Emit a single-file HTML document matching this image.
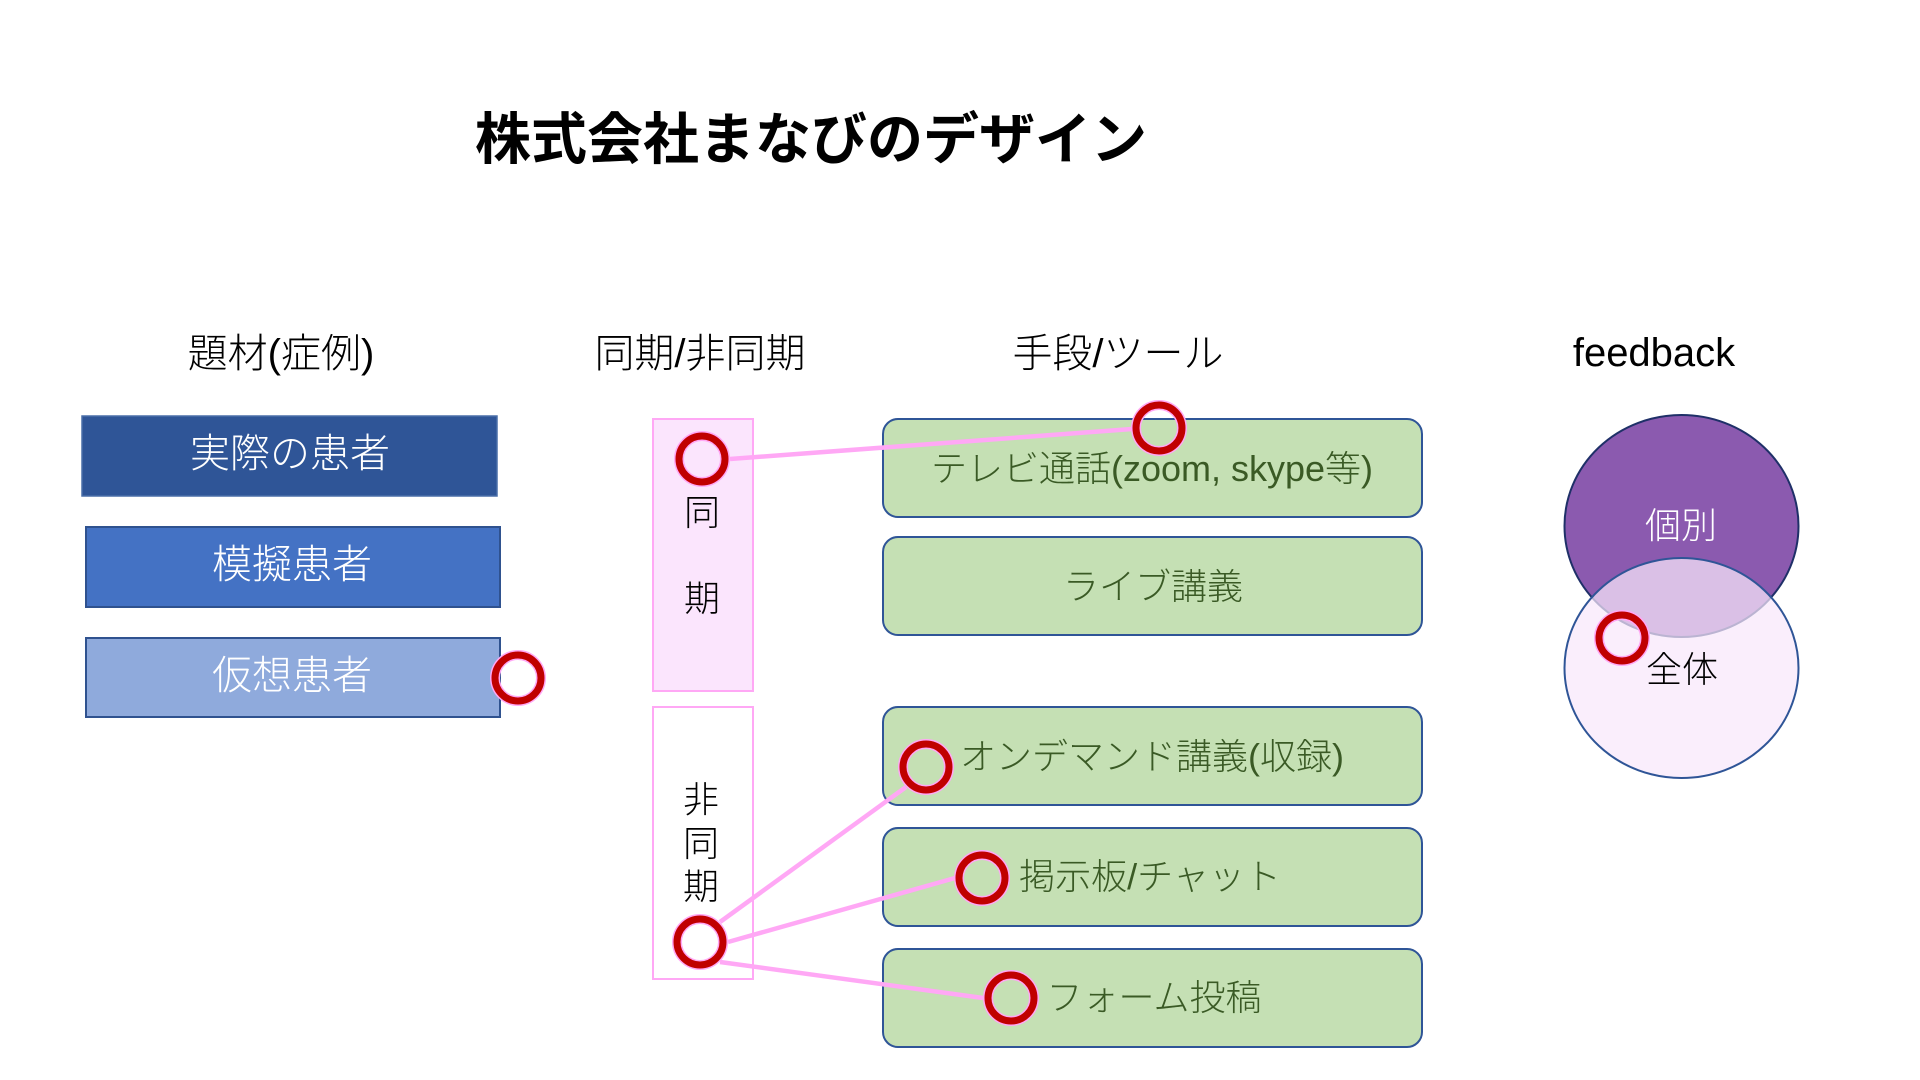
<!DOCTYPE html>
<html>
<head>
<meta charset="utf-8">
<style>
  html, body { margin: 0; padding: 0; background: #ffffff; }
  body { width: 1920px; height: 1080px; overflow: hidden; }
  svg { display: block; }
  text { font-family: "Liberation Sans", "Noto Sans CJK JP", sans-serif; font-weight: 300; }
  text.title { font-weight: bold; }
</style>
</head>
<body>
<svg width="1920" height="1080" viewBox="0 0 1920 1080" xmlns="http://www.w3.org/2000/svg">
  <rect x="0" y="0" width="1920" height="1080" fill="#ffffff"/>

  <!-- Title -->
  <text class="title" x="811" y="159" font-size="56" text-anchor="middle" fill="#000000">株式会社まなびのデザイン</text>

  <!-- Column headers -->
  <text x="281" y="367" font-size="40" text-anchor="middle" fill="#000000">題材(症例)</text>
  <text x="700" y="367" font-size="40" text-anchor="middle" fill="#000000">同期/非同期</text>
  <text x="1118" y="367" font-size="40" text-anchor="middle" fill="#000000">手段/ツール</text>
  <text x="1654" y="366" font-size="40" text-anchor="middle" fill="#000000">feedback</text>

  <!-- Left blue boxes -->
  <rect x="82" y="416" width="415" height="80" fill="#2F5597" stroke="#4A6FA8" stroke-width="1.5"/>
  <text x="290" y="467" font-size="40" text-anchor="middle" fill="#ffffff">実際の患者</text>

  <rect x="86" y="527" width="414" height="80" fill="#4472C4" stroke="#2F528F" stroke-width="2"/>
  <text x="292" y="578" font-size="40" text-anchor="middle" fill="#ffffff">模擬患者</text>

  <rect x="86" y="638" width="414" height="79" fill="#8FAADC" stroke="#2F528F" stroke-width="2"/>
  <text x="292" y="689" font-size="40" text-anchor="middle" fill="#ffffff">仮想患者</text>

  <!-- Pink sync/async boxes -->
  <rect x="653" y="419" width="100" height="272" fill="#FBE5FD" stroke="#FFA8F5" stroke-width="2"/>
  <rect x="653" y="707" width="100" height="272" fill="#ffffff" stroke="#FFA8F5" stroke-width="2"/>
  <text x="702" y="525" font-size="36" text-anchor="middle" fill="#000000">同</text>
  <text x="702" y="611" font-size="36" text-anchor="middle" fill="#000000">期</text>
  <text x="701" y="812" font-size="36" text-anchor="middle" fill="#000000">非</text>
  <text x="701" y="856" font-size="36" text-anchor="middle" fill="#000000">同</text>
  <text x="701" y="899" font-size="36" text-anchor="middle" fill="#000000">期</text>

  <!-- Green tool boxes -->
  <rect x="883" y="419" width="539" height="98" rx="15" ry="15" fill="#C5E0B4" stroke="#2F5597" stroke-width="2"/>
  <rect x="883" y="537" width="539" height="98" rx="15" ry="15" fill="#C5E0B4" stroke="#2F5597" stroke-width="2"/>
  <rect x="883" y="707" width="539" height="98" rx="15" ry="15" fill="#C5E0B4" stroke="#2F5597" stroke-width="2"/>
  <rect x="883" y="828" width="539" height="98" rx="15" ry="15" fill="#C5E0B4" stroke="#2F5597" stroke-width="2"/>
  <rect x="883" y="949" width="539" height="98" rx="15" ry="15" fill="#C5E0B4" stroke="#2F5597" stroke-width="2"/>

  <text x="1152" y="481" font-size="36" text-anchor="middle" fill="#3A5A25">テレビ通話(zoom, skype等)</text>
  <text x="1153" y="599" font-size="36" text-anchor="middle" fill="#3A5A25">ライブ講義</text>
  <text x="1152" y="769" font-size="36" text-anchor="middle" fill="#3A5A25">オンデマンド講義(収録)</text>
  <text x="1150" y="889" font-size="36" text-anchor="middle" fill="#3A5A25">掲示板/チャット</text>
  <text x="1154" y="1010" font-size="36" text-anchor="middle" fill="#3A5A25">フォーム投稿</text>

  <!-- Venn ellipses -->
  <ellipse cx="1681.5" cy="526" rx="117" ry="111" fill="#8B5AAF" stroke="#1F3068" stroke-width="2"/>
  <ellipse cx="1681.5" cy="668" rx="117" ry="110" fill="rgba(248,231,251,0.72)" stroke="#2F5597" stroke-width="2"/>
  <text x="1681" y="538" font-size="36" text-anchor="middle" fill="#ffffff">個別</text>
  <text x="1682" y="682" font-size="36" text-anchor="middle" fill="#000000">全体</text>

  <!-- Connector lines -->
  <g stroke="#FFA8F5" stroke-width="4.5" stroke-linecap="butt" fill="none">
    <line x1="730" y1="459" x2="1132" y2="429"/>
    <line x1="720" y1="922" x2="906" y2="787"/>
    <line x1="728" y1="942" x2="955" y2="878"/>
    <line x1="720" y1="962" x2="983" y2="998"/>
  </g>

  <!-- Red ring markers -->
  <g fill="none">
    <g stroke="#FFA8F5" stroke-width="10">
      <circle cx="702" cy="459" r="23"/>
      <circle cx="1159" cy="428" r="23"/>
      <circle cx="926" cy="767" r="23"/>
      <circle cx="982" cy="878" r="23"/>
      <circle cx="1011" cy="998" r="23"/>
      <circle cx="700" cy="942" r="23"/>
      <circle cx="518" cy="678" r="23"/>
      <circle cx="1622" cy="638" r="23"/>
    </g>
    <g stroke="#C00000" stroke-width="7">
      <circle cx="702" cy="459" r="23"/>
      <circle cx="1159" cy="428" r="23"/>
      <circle cx="926" cy="767" r="23"/>
      <circle cx="982" cy="878" r="23"/>
      <circle cx="1011" cy="998" r="23"/>
      <circle cx="700" cy="942" r="23"/>
      <circle cx="518" cy="678" r="23"/>
      <circle cx="1622" cy="638" r="23"/>
    </g>
  </g>
</svg>
</body>
</html>
